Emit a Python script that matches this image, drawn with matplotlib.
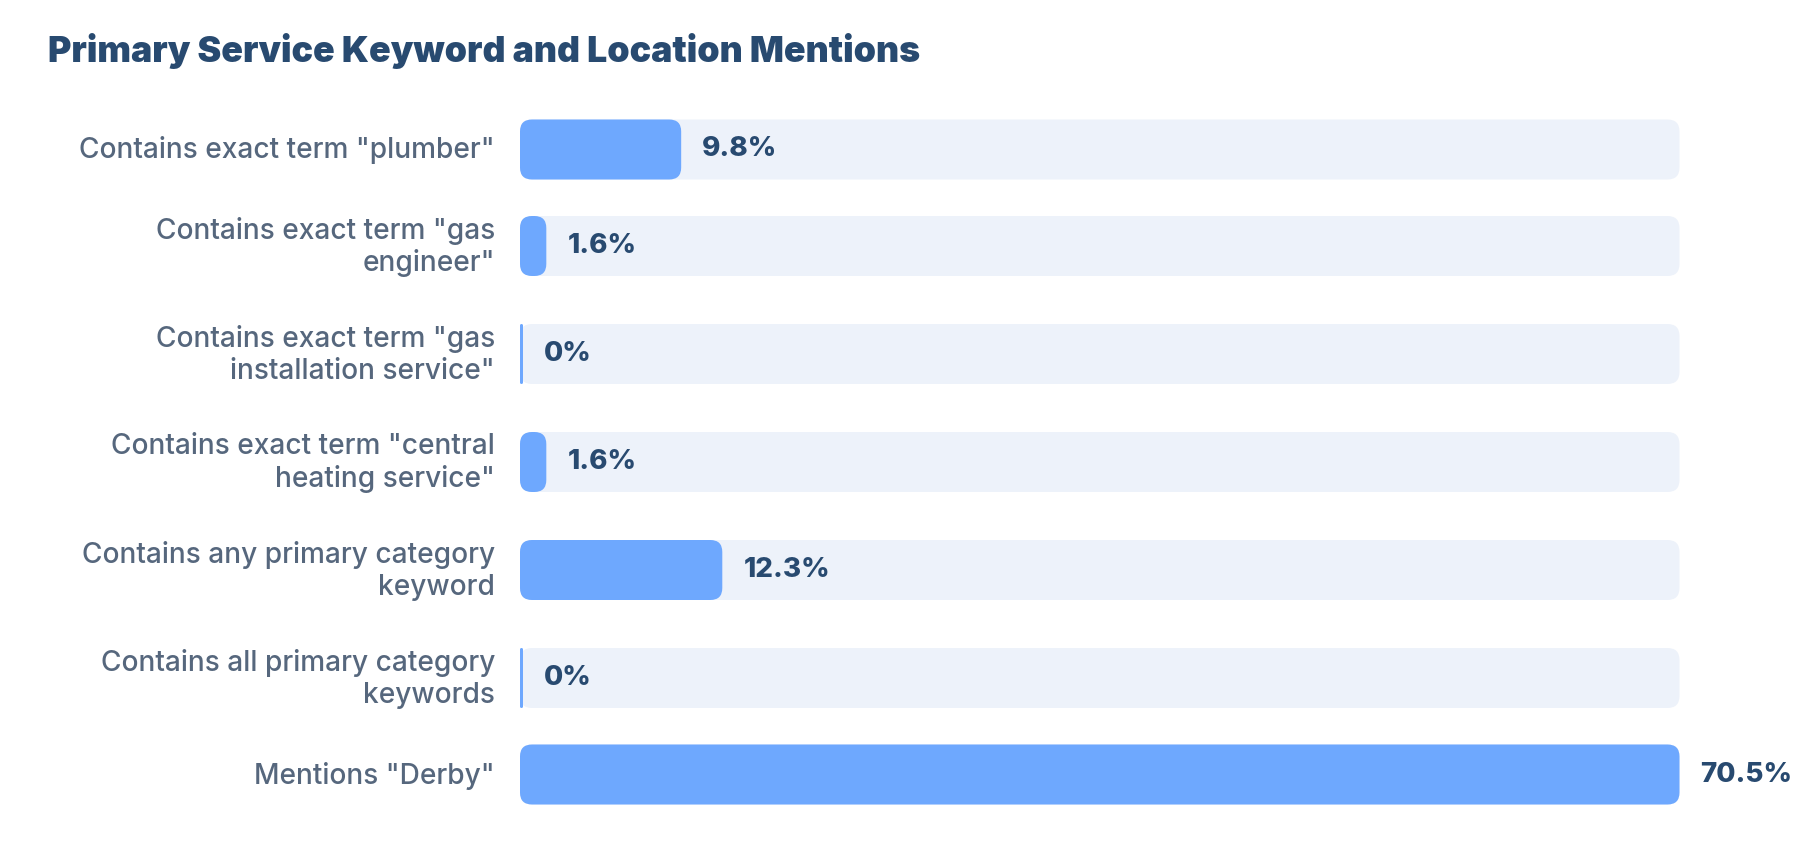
import matplotlib
matplotlib.use("Agg")
import matplotlib.pyplot as plt
from matplotlib.patches import FancyBboxPatch

# ---- data ----
categories = [
    'Contains exact term "plumber"',
    'Contains exact term "gas\nengineer"',
    'Contains exact term "gas\ninstallation service"',
    'Contains exact term "central\nheating service"',
    'Contains any primary category\nkeyword',
    'Contains all primary category\nkeywords',
    'Mentions "Derby"',
]
values = [9.8, 1.6, 0.0, 1.6, 12.3, 0.0, 70.5]
value_labels = ["9.8%", "1.6%", "0%", "1.6%", "12.3%", "0%", "70.5%"]
title = "Primary Service Keyword and Location Mentions"

# ---- style ----
W, H, DPI = 1800, 860, 100
BAR_COLOR = "#6ea8fe"
TRACK_COLOR = "#edf2fa"
LABEL_COLOR = "#56677d"
VALUE_COLOR = "#284a70"
TITLE_COLOR = "#284a70"
FONT = ["Inter", "DejaVu Sans"]

plt.rcParams["font.family"] = FONT

fig = plt.figure(figsize=(W / DPI, H / DPI), dpi=DPI)
fig.patch.set_facecolor("white")
ax = fig.add_axes([0, 0, 1, 1])
ax.set_axis_off()

# layout in pixels
track_left, track_right = 520.0, 1679.5
vmax = max(values)
k = vmax / (track_right - track_left)  # data units per pixel
ax.set_xlim(-track_left * k, (W - track_left) * k)
ax.set_ylim(H, 0)

bar_h = 60.0
radius_px = 12.0
first_center = 149.5
band_one_line, band_two_line = 85.0, 108.0

nlines = [c.count("\n") + 1 for c in categories]
bands = [band_one_line if n == 1 else band_two_line for n in nlines]
centers = []
y = first_center
for i, b in enumerate(bands):
    if i > 0:
        y += (bands[i - 1] + b) / 2.0
    centers.append(y)

aspect = 1.0 / k  # y pixel units per x data unit


def rounded(x0, yc, w, color, z):
    r = min(radius_px * k, w / 2.0)
    p = FancyBboxPatch(
        (x0, yc - bar_h / 2.0), w, bar_h,
        boxstyle=f"round,pad=0,rounding_size={r}",
        mutation_aspect=aspect,
        facecolor=color, edgecolor="none", zorder=z,
    )
    ax.add_patch(p)


for cat, v, lab, yc in zip(categories, values, value_labels, centers):
    rounded(0, yc, vmax, TRACK_COLOR, 1)
    w = max(v, 3 * k)
    rounded(0, yc, w, BAR_COLOR, 2)
    ax.text(-25 * k, yc + 1, cat, ha="right", va="center", fontsize=20.2,
            fontweight="medium", color=LABEL_COLOR, linespacing=1.2)
    ax.annotate(lab, (w, yc), xytext=(21 * 0.72, 0), textcoords="offset points",
                ha="left", va="center", fontsize=20.0, fontweight="heavy",
                color=VALUE_COLOR)

fig.text(48 / W, 1 - 62 / H, title, ha="left", va="baseline",
         fontsize=25.7, fontweight="black", color=TITLE_COLOR)

fig.savefig("out.png", dpi=DPI, facecolor="white")
